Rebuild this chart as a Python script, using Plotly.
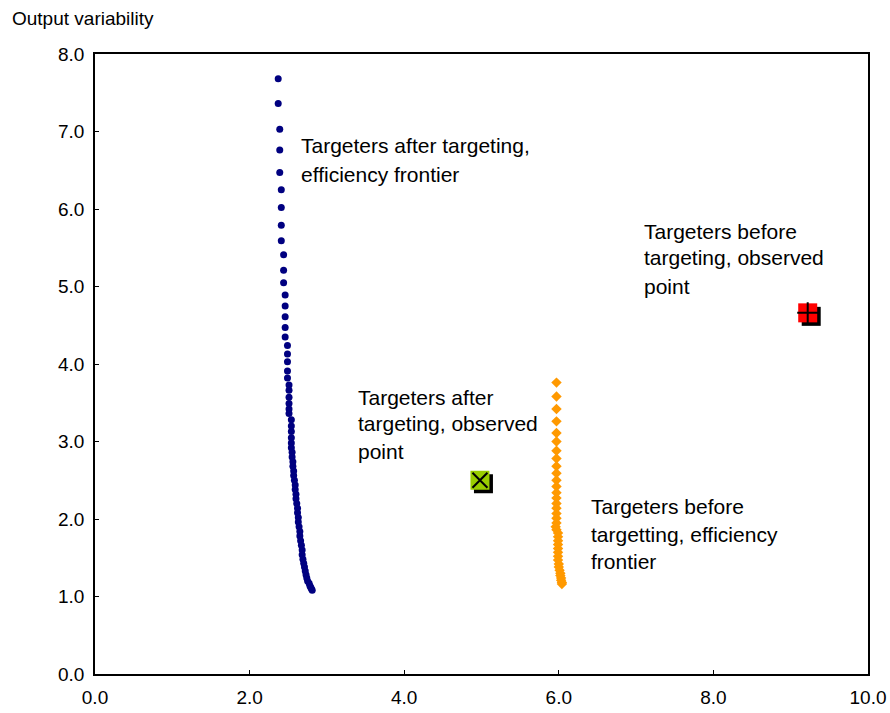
import plotly.graph_objects as go

# Targeters after targeting, efficiency frontier
after_x = [2.37, 2.37, 2.39, 2.39, 2.39, 2.41, 2.41, 2.41, 2.41, 2.44, 2.44, 2.44,
           2.46, 2.46, 2.46, 2.46, 2.46, 2.49, 2.49, 2.49, 2.49, 2.49,
           2.51, 2.51, 2.51, 2.51, 2.51, 2.51, 2.54, 2.54, 2.54, 2.54, 2.54,
           2.54, 2.55, 2.55, 2.56, 2.56, 2.57, 2.57, 2.58, 2.59, 2.59, 2.60, 2.60,
           2.61, 2.62, 2.62, 2.63, 2.63, 2.64, 2.65, 2.65, 2.66, 2.67, 2.68, 2.68,
           2.69, 2.70, 2.71, 2.72, 2.73, 2.74, 2.75, 2.77, 2.78, 2.79, 2.80, 2.81]
after_y = [7.68, 7.36, 7.03, 6.76, 6.47, 6.25, 6.02, 5.79, 5.59, 5.41, 5.21, 5.05,
           4.89, 4.75, 4.61, 4.47, 4.35, 4.24, 4.13, 4.03, 3.91, 3.82,
           3.73, 3.66, 3.57, 3.49, 3.42, 3.36, 3.28, 3.20, 3.13, 3.05, 2.98,
           2.92, 2.86, 2.80, 2.74, 2.68, 2.62, 2.56, 2.50, 2.44, 2.38, 2.32, 2.26,
           2.20, 2.14, 2.08, 2.02, 1.96, 1.90, 1.84, 1.78, 1.72, 1.66, 1.60, 1.54,
           1.48, 1.43, 1.38, 1.33, 1.28, 1.24, 1.20, 1.17, 1.14, 1.12, 1.10, 1.08]

# Targeters before targetting, efficiency frontier
before_x = [5.97, 5.97, 5.97, 5.97, 5.97, 5.97, 5.97, 5.97, 5.97, 5.97, 5.97, 5.97,
            5.97, 5.97, 5.97, 5.97, 5.97, 5.97, 5.97,
            5.96, 5.97, 5.99, 5.99, 5.99, 5.99, 5.99, 5.99, 5.99, 5.99, 6.00, 6.00,
            6.01, 6.02, 6.02, 6.03, 6.03, 6.04, 6.04]
before_y = [3.76, 3.58, 3.42, 3.26, 3.11, 3.00, 2.88, 2.78, 2.68, 2.59, 2.50, 2.42,
            2.34, 2.27, 2.20, 2.14, 2.07, 2.01, 1.95,
            1.90, 1.86, 1.82, 1.77, 1.72, 1.67, 1.62, 1.57, 1.52, 1.47, 1.42, 1.38,
            1.34, 1.30, 1.27, 1.24, 1.21, 1.18, 1.16]

# Observed points
obs_after = (4.98, 2.50)
obs_before = (9.22, 4.66)

x_ticks = [0, 2, 4, 6, 8, 10]
x_ticklabels = ["0.0", "2.0", "4.0", "6.0", "8.0", "10.0"]
y_ticks = [0, 1, 2, 3, 4, 5, 6, 7, 8]
y_ticklabels = ["0.0", "1.0", "2.0", "3.0", "4.0", "5.0", "6.0", "7.0", "8.0"]

FONT = "Liberation Sans, Arial, sans-serif"
fig = go.Figure()

fig.add_trace(go.Scatter(x=after_x, y=after_y, mode="markers",
                         marker=dict(symbol="circle", size=7, color="#000080"),
                         showlegend=False))
fig.add_trace(go.Scatter(x=before_x, y=before_y, mode="markers",
                         marker=dict(symbol="diamond", size=8, color="#FF9900"),
                         showlegend=False))

# shadow offsets (about 3.5 px) for the observed-point markers
dx = 3.5 / 77.3
dy = 3.5 / 77.5
for (px, py), col, sym in [(obs_after, "#99CC00", "x-thin-open"),
                           (obs_before, "#FF0000", "cross-thin-open")]:
    fig.add_trace(go.Scatter(x=[px + dx], y=[py - dy], mode="markers",
                             marker=dict(symbol="square", size=19, color="black"),
                             showlegend=False))
    fig.add_trace(go.Scatter(x=[px], y=[py], mode="markers",
                             marker=dict(symbol="square", size=19, color=col),
                             showlegend=False))
    fig.add_trace(go.Scatter(x=[px], y=[py], mode="markers",
                             marker=dict(symbol=sym, size=15, color="black",
                                         line=dict(color="black", width=2)),
                             showlegend=False))

labels = [
    (2.644, [6.813, 6.439], ["Targeters after targeting,", "efficiency frontier"]),
    (7.078, [5.716, 5.368, 5.006], ["Targeters before", "targeting, observed", "point"]),
    (3.381, [3.574, 3.226, 2.865], ["Targeters after", "targeting, observed", "point"]),
    (6.393, [2.155, 1.794, 1.458], ["Targeters before", "targetting, efficiency", "frontier"]),
]
for lx, lys, lines in labels:
    for ly, t in zip(lys, lines):
        fig.add_annotation(x=lx, y=ly, text=t, showarrow=False, xanchor="left",
                           yanchor="middle", xref="x", yref="y",
                           font=dict(family=FONT, size=21, color="black"))

fig.add_annotation(text="Output variability", showarrow=False,
                   xref="paper", yref="paper", x=-0.110, y=1.058,
                   xanchor="left", yanchor="middle",
                   font=dict(family=FONT, size=19, color="black"))

fig.update_layout(
    width=890, height=713,
    margin=dict(l=95, r=22, t=54, b=39, autoexpand=False),
    paper_bgcolor="white", plot_bgcolor="white",
    font=dict(family=FONT, size=19, color="black"),
    xaxis=dict(range=[0, 10], tickvals=x_ticks, ticktext=x_ticklabels,
               showgrid=False, zeroline=False, showline=True, linecolor="black",
               linewidth=1.5, mirror=True, ticks="inside", ticklen=4,
               tickcolor="black", ticklabelstandoff=5, automargin=False),
    yaxis=dict(range=[0, 8], tickvals=y_ticks, ticktext=y_ticklabels,
               showgrid=False, zeroline=False, showline=True, linecolor="black",
               linewidth=1.5, mirror=True, ticks="inside", ticklen=4,
               tickcolor="black", ticklabelstandoff=5, automargin=False),
)

fig.write_html(
    "out.html",
    config={"displayModeBar": False},
    post_script="document.documentElement.style.overflow='hidden';"
                "document.body.style.margin='0';"
                "document.body.style.overflow='hidden';",
)
